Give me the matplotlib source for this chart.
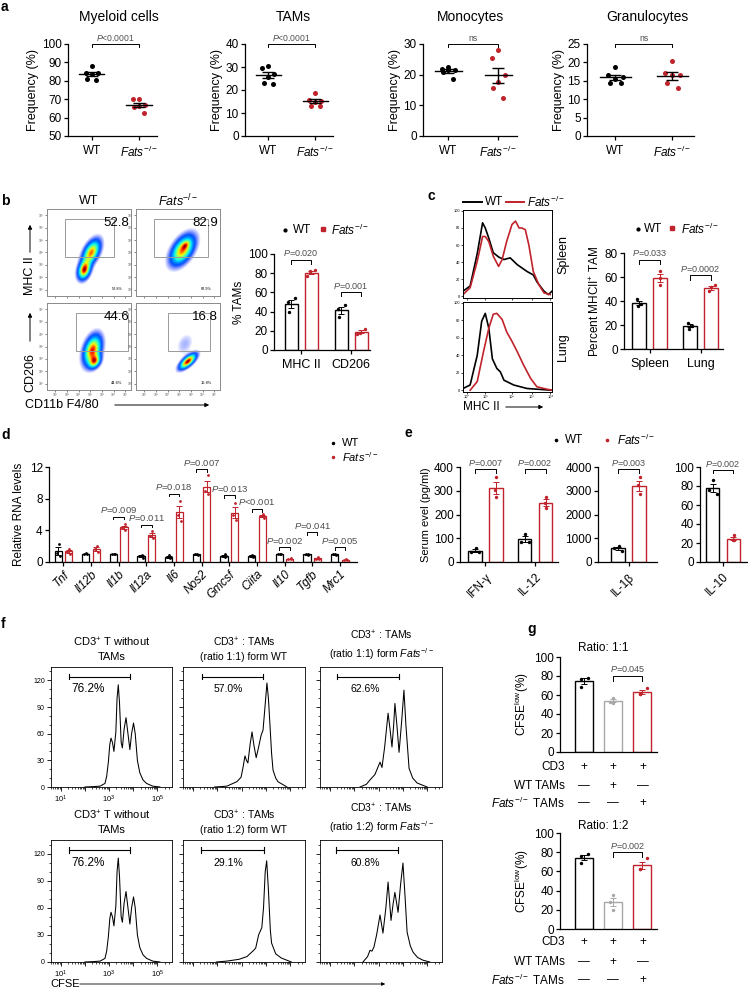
import numpy as np
import matplotlib
matplotlib.use('Agg')
import matplotlib.pyplot as plt
from matplotlib.patches import Rectangle

# ---------------- data ----------------
# panel a
a_titles = ['Myeloid cells', 'TAMs', 'Monocytes', 'Granulocytes']
a_wt = [[88, 84.5, 84, 83.5, 81, 80.5],
        [30.5, 29.5, 27, 25.5, 23, 22.8],
        [22.5, 22, 21.5, 21.5, 21, 18.5],
        [18.8, 16.5, 16, 15.5, 14.5, 14.5]]
a_ko = [[70.2, 70, 67, 66.5, 66, 62.5],
        [18.5, 15.5, 15.2, 15, 13.2, 13.2],
        [28, 25.5, 20, 17.5, 15.5, 12.5],
        [20.5, 17, 16.5, 16.5, 14.5, 13]]
a_ylim = [(50, 100), (0, 40), (0, 30), (0, 25)]
a_yticks = [[50, 60, 70, 80, 90, 100], [0, 10, 20, 30, 40], [0, 10, 20, 30], [0, 5, 10, 15, 20, 25]]
a_p = [r'$\mathit{P}$<0.0001', r'$\mathit{P}$<0.0001', 'ns', 'ns']

# panel b flow (gaussian blob parameters: cx, cy, sx, sy, rho, weight)
flow_wt_mhc = [(3.5, 2.6, 0.32, 0.45, 0.3, 1.0), (4.1, 4.0, 0.45, 0.6, 0.5, 0.9)]
flow_ko_mhc = [(4.3, 4.2, 0.6, 0.7, 0.5, 1.0), (4.55, 4.6, 0.22, 0.22, 0.5, 0.3)]
flow_wt_cd206 = [(4.2, 3.7, 0.45, 0.7, 0.35, 0.8), (4.4, 2.8, 0.3, 0.32, 0.3, 0.6)]
flow_ko_cd206 = [(4.75, 2.8, 0.42, 0.36, 0.7, 1.0), (4.5, 4.2, 0.5, 0.6, 0.3, 0.07)]
flow_big = ['52.8', '82.9', '44.6', '16.8']
flow_small = ['52.8%', '82.9%', '44.6%', '16.8%']
flow_gates = [(1.85, 3.6, 6.0, 6.7), (1.85, 3.6, 6.5, 6.7), (2.8, 3.6, 7.2, 6.7), (3.05, 3.6, 6.65, 6.7)]

# panel b bars
b_groups = ['MHC II', 'CD206']
b_wt = [[54, 50, 40], [47, 43, 34]]
b_ko = [[83, 82, 77], [22, 18, 17]]
b_p = [r'$\mathit{P}$=0.020', r'$\mathit{P}$=0.001']
b_pbar = [94, 60]

# panel c histograms (x as fraction of axis, y count)
c_sp_wt_x = [0.0, 0.08, 0.16, 0.22, 0.25, 0.29, 0.34, 0.40, 0.46, 0.53, 0.61, 0.72, 0.79, 0.83, 0.91, 0.96, 1.0]
c_sp_wt_y = [6, 12, 50, 86, 80, 68, 51, 46, 43, 45, 37, 29, 25, 17, 6, 2, 6]
c_sp_ko_x = [0.0, 0.08, 0.16, 0.22, 0.25, 0.29, 0.34, 0.40, 0.44, 0.49, 0.55, 0.59, 0.63, 0.66, 0.70, 0.74, 0.79, 0.85, 0.91, 0.98]
c_sp_ko_y = [2, 10, 41, 70, 70, 64, 47, 35, 43, 64, 84, 88, 80, 80, 78, 60, 29, 14, 4, 2]
c_lu_wt_x = [0.0, 0.08, 0.16, 0.21, 0.25, 0.29, 0.33, 0.38, 0.42, 0.46, 0.57, 0.72, 1.0]
c_lu_wt_y = [2, 6, 40, 79, 88, 71, 36, 25, 21, 11.5, 6, 2, 0]
c_lu_ko_x = [0.08, 0.16, 0.23, 0.29, 0.34, 0.38, 0.44, 0.49, 0.55, 0.61, 0.68, 0.76, 0.83, 0.91, 1.0]
c_lu_ko_y = [0, 10, 44, 71, 87, 88, 81, 67, 56, 44, 29, 13.5, 4, 2, 0]

# panel c bars
c_groups = ['Spleen', 'Lung']
c_wt = [[42, 37.5, 36], [22, 19.5, 17]]
c_ko = [[65, 59, 53], [53.5, 52, 48]]
c_p = [r'$\mathit{P}$=0.033', r'$\mathit{P}$=0.0002']
c_pbar = [74.5, 61.5]

# panel d
d_genes = ['Tnf', 'Il12b', 'Il1b', 'Il12a', 'Il6', 'Nos2', 'Gmcsf', 'Ciita', 'Il10', 'Tgfb', 'Mrc1']
d_wt = [[2.3, 1.2, 0.7], [1.1, 1.0, 0.95], [1.05, 1.0, 0.95], [0.9, 0.8, 0.5], [0.9, 0.6, 0.5],
        [1.0, 0.95, 0.9], [1.0, 0.8, 0.6], [0.9, 0.8, 0.6], [1.05, 1.0, 0.95], [1.0, 0.95, 0.9], [1.0, 0.95, 0.9]]
d_ko = [[1.7, 1.3, 1.0], [2.0, 1.6, 1.3], [4.8, 4.3, 4.0], [3.9, 3.3, 3.0], [7.7, 5.9, 5.2],
        [11.0, 9.0, 8.6], [7.5, 5.9, 5.3], [6.1, 5.8, 5.6], [0.45, 0.4, 0.35], [0.6, 0.4, 0.35], [0.35, 0.25, 0.2]]
d_p = [None, None, 'P=0.009', 'P=0.011', 'P=0.018', 'P=0.007', 'P=0.013', 'P<0.001', 'P=0.002', 'P=0.041', 'P=0.005']
d_pbar = [None, None, 5.74, 4.72, 8.64, 11.74, 8.43, 6.72, 1.9, 3.74, 1.9]

# panel e
e1_cats = ['IFN-γ', 'IL-12']
e1_wt = [[60, 42, 42], [119, 85, 85]]
e1_ko = [[358, 305, 273], [275, 247, 226]]
e1_p = [r'$\mathit{P}$=0.007', r'$\mathit{P}$=0.002']
e2_cats = ['IL-1β']
e2_wt = [[670, 600, 470]]
e2_ko = [[3580, 3230, 2850]]
e2_p = [r'$\mathit{P}$=0.003']
e3_cats = ['IL-10']
e3_wt = [[86, 76, 72]]
e3_ko = [[28, 23, 23]]
e3_p = [r'$\mathit{P}$=0.002']

# panel f histograms (x in log10 CFSE, y count)
f_none_x = [2.0, 2.4, 2.63, 2.83, 2.9, 2.97, 3.03, 3.08, 3.14, 3.2, 3.28, 3.33, 3.38, 3.43, 3.5, 3.55,
            3.62, 3.7, 3.78, 3.86, 3.93, 4.01, 4.08, 4.17, 4.27, 4.4, 4.55, 4.8, 5.1]
f_none_y = [0, 0.5, 1, 4, 12, 28, 48, 55, 50, 40, 62, 100, 115, 95, 50, 44,
            65, 78, 60, 42, 60, 72, 60, 30, 16, 8, 4, 1, 0]
f_wt11_x = [1.9, 2.2, 2.4, 2.81, 2.98, 3.06, 3.14, 3.2, 3.26, 3.35, 3.43, 3.5, 3.6, 3.7, 3.8, 3.88,
            3.96, 4.04, 4.1, 4.17, 4.23, 4.29, 4.4, 4.49, 4.86]
f_wt11_y = [0, 0.5, 1, 6, 11, 22, 35, 30, 27, 48, 62, 48, 33, 45, 58, 64,
            90, 117, 100, 67, 38, 19, 10, 6, 0]
f_ko11_x = [2.24, 2.5, 2.65, 2.85, 3.0, 3.06, 3.14, 3.25, 3.39, 3.47, 3.55, 3.62, 3.67, 3.75, 3.84,
            3.95, 4.04, 4.12, 4.25, 4.4, 4.58, 4.99]
f_ko11_y = [0, 3, 8, 14, 24, 28, 22, 45, 83, 65, 45, 70, 94, 70, 39, 75, 109, 70, 21, 10, 4.5, 0]
f_wt12_x = [1.97, 2.4, 2.9, 3.22, 3.3, 3.38, 3.5, 3.58, 3.65, 3.7, 3.78, 3.83, 3.9, 3.97, 4.03,
            4.1, 4.18, 4.23, 4.4, 4.63, 5.04]
f_wt12_y = [0, 1, 3, 6, 8, 10, 13, 15.5, 24, 30, 35, 38, 60, 100, 112, 80, 35, 21, 9, 4.4, 0]
f_ko12_x = [2.36, 2.55, 2.65, 2.73, 2.81, 2.92, 3.06, 3.18, 3.3, 3.39, 3.51, 3.6, 3.67, 3.8, 3.9,
            4.0, 4.08, 4.17, 4.3, 4.41, 4.6, 4.82, 5.1]
f_ko12_y = [0, 6, 13, 12, 16.5, 30, 52, 32, 60, 88.5, 46, 65, 77, 55, 85, 109.5, 75, 33, 18, 11, 5, 2, 0]
f_pct = ['76.2%', '57.0%', '62.6%', '76.2%', '29.1%', '60.8%']
f_gate = [(1.33, 3.86), (1.37, 3.88), (1.3, 3.84), (1.33, 3.86), (1.34, 3.92), (1.26, 3.8)]

# panel g
g1_vals = [[78, 77, 68], [57, 53, 52], [67, 61, 61]]
g2_vals = [[78, 76.5, 68.5], [35.5, 28.6, 20], [74, 62.7, 62.7]]
g_p = [r'$\mathit{P}$=0.045', r'$\mathit{P}$=0.002']
g_signs = [['+', '+', '+'], ['—', '+', '—'], ['—', '—', '+']]

# ---------------- style ----------------
W, H = 748, 999
plt.rcParams.update({
    'font.family': ['Liberation Sans', 'DejaVu Sans'],
    'mathtext.fontset': 'custom',
    'mathtext.rm': 'Liberation Sans',
    'mathtext.it': 'Liberation Sans:italic',
    'mathtext.bf': 'Liberation Sans:bold',
    'axes.linewidth': 0.9,
    'xtick.major.width': 0.9, 'ytick.major.width': 0.9,
    'xtick.major.size': 3, 'ytick.major.size': 3,
    'xtick.direction': 'out', 'ytick.direction': 'out',
    'axes.facecolor': 'none',
})
RED = '#C0232B'
GRAY = '#A8A8A8'
PCOL = '#4d4d4d'
FATS = r'$\mathit{Fats}^{-/-}$'
SUP = ['', '¹', '²', '³', '⁴', '⁵', '⁶', '⁷']

fig = plt.figure(figsize=(W / 100, H / 100), dpi=100)
ov = fig.add_axes([0, 0, 1, 1])
ov.set_xlim(0, W)
ov.set_ylim(H, 0)
ov.axis('off')
ov.set_zorder(10)


def add_ax(l, t, r, b):
    return fig.add_axes([l / W, 1 - b / H, (r - l) / W, (b - t) / H])


def clean(ax):
    ax.spines['top'].set_visible(False)
    ax.spines['right'].set_visible(False)


def semstats(v):
    v = np.asarray(v, float)
    return v.mean(), v.std(ddof=1) / np.sqrt(len(v))


def bar(ax, x, vals, color, width, offs=(0.25, -0.25, 0.0), dot_s=6, lw=1.0):
    m, se = semstats(vals)
    ax.bar(x, m, width, facecolor='white', edgecolor=color, linewidth=lw, zorder=2)
    ax.errorbar(x, m, yerr=se, color=color, capsize=2, lw=0.7, capthick=0.7, zorder=3)
    ax.scatter(x + np.array(offs[:len(vals)]) * width, vals, s=dot_s, color=color, zorder=4, linewidths=0)


def bracket(ax, x1, x2, y, h, text, fs=6.2, gap=0.3):
    ax.plot([x1, x1, x2, x2], [y - h, y, y, y - h], color='k', lw=0.7, clip_on=False)
    ax.text((x1 + x2) / 2, y + h * gap, text, ha='center', va='bottom', fontsize=fs, color=PCOL, clip_on=False)


def plabel(x, y, s):
    ov.text(x, y, s, fontsize=10, fontweight='bold', ha='left', va='top')


# ---------------- panel a ----------------
plabel(1, 0, 'a')
a_boxes = [(68, 44, 157, 136), (245, 44, 333, 136), (423, 44, 517, 136), (587, 44, 694, 136)]
a_title_x = [119, 293, 471, 647]
a_jit = np.array([0.0, -0.13, 0.13, 0.0, -0.1, 0.1])
for i in range(4):
    ax = add_ax(*a_boxes[i])
    clean(ax)
    for j, (vals, col) in enumerate([(a_wt[i], 'black'), (a_ko[i], RED)]):
        m, se = semstats(vals)
        ax.scatter(j + a_jit, vals, s=13, color=col, zorder=3, linewidths=0)
        ax.plot([j - 0.27, j + 0.27], [m, m], color='k', lw=1.0, zorder=4)
        ax.errorbar(j, m, yerr=se, color='k', capsize=4, lw=1.0, capthick=1.0, zorder=4)
    lo, hi = a_ylim[i]
    ax.set_ylim(lo, hi)
    ax.set_yticks(a_yticks[i])
    ax.set_xlim(-0.5, 1.38)
    ax.set_xticks([0, 1])
    ax.set_xticklabels(['WT', FATS], fontsize=8.5)
    ax.tick_params(axis='y', labelsize=8.5, pad=1.5)
    ax.set_ylabel('Frequency (%)', fontsize=9, labelpad=2)
    rng = hi - lo
    bracket(ax, 0, 1, hi, 0.035 * rng, a_p[i], fs=6.2, gap=0.4)
    ov.text(a_title_x[i], 17, a_titles[i], fontsize=10, ha='center', va='center')

# ---------------- panel b flow ----------------
plabel(1, 194, 'b')
fx0, fx1, fy0, fy1 = 0.3, 7.5, 0.5, 7.5
gx = np.linspace(fx0, fx1, 240)
gy = np.linspace(fy0, fy1, 240)
GX, GY = np.meshgrid(gx, gy)
flow_sets = [flow_wt_mhc, flow_ko_mhc, flow_wt_cd206, flow_ko_cd206]
flow_boxes = [(47, 209, 131, 296), (136, 209, 220, 296), (47, 303, 131, 390), (136, 303, 220, 390)]
jet = plt.get_cmap('jet')
for k in range(4):
    ax = add_ax(*flow_boxes[k])
    D = np.zeros_like(GX)
    for (cx, cy, sx, sy, rho, w) in flow_sets[k]:
        dx = (GX - cx) / sx
        dy = (GY - cy) / sy
        D += w * np.exp(-(dx ** 2 - 2 * rho * dx * dy + dy ** 2) / (2 * (1 - rho ** 2)))
    D /= D.max()
    rgba = jet(0.15 + 0.85 * np.clip(D, 0, 1) ** 1.6)
    rgba[..., 3] = np.clip((D - 0.03) / 0.15, 0, 1) ** 0.8
    ax.imshow(rgba, extent=(fx0, fx1, fy0, fy1), origin='lower', aspect='auto', interpolation='bilinear')
    x0, y0, x1, y1 = flow_gates[k]
    ax.add_patch(Rectangle((x0, y0), x1 - x0, y1 - y0, fill=False, edgecolor='#9a9a9a', lw=0.7))
    ax.set_xlim(fx0, fx1)
    ax.set_ylim(fy0, fy1)
    for s in ax.spines.values():
        s.set_color('#8a8a8a')
        s.set_linewidth(0.7)
    ax.set_xticks(range(1, 8))
    ax.set_yticks(range(1, 8))
    ax.set_yticklabels(['10' + SUP[d] for d in range(1, 8)], fontsize=2.4)
    if k >= 2:
        ax.set_xticklabels(['10' + SUP[d] for d in range(1, 8)], fontsize=2.4)
    else:
        ax.set_xticklabels([])
    ax.tick_params(length=1.5, width=0.5, pad=0.8, colors='#555555')
    ax.text(7.35, 6.35, flow_big[k], fontsize=9.5, ha='right', va='center')
    ax.text(6.3, 1.05, flow_small[k], fontsize=2.8, ha='center', va='center')
ov.text(89, 201, 'WT', fontsize=9, ha='center', va='center')
ov.text(178, 201, FATS, fontsize=9, ha='center', va='center')
ov.text(30, 276, 'MHC II', fontsize=9, rotation=90, ha='center', va='center')
ov.annotate('', xy=(30, 222), xytext=(30, 255), arrowprops=dict(arrowstyle='-|>', lw=0.7, color='k', mutation_scale=6))
ov.text(30, 372, 'CD206', fontsize=9, rotation=90, ha='center', va='center')
ov.annotate('', xy=(30, 310), xytext=(30, 344), arrowprops=dict(arrowstyle='-|>', lw=0.7, color='k', mutation_scale=6))
ov.text(25, 405, 'CD11b F4/80', fontsize=9, ha='left', va='center')
ov.annotate('', xy=(212, 405), xytext=(112, 405), arrowprops=dict(arrowstyle='-|>', lw=0.7, color='k', mutation_scale=6))

# ---------------- panel b bars ----------------
ax = add_ax(274, 254, 370, 350)
clean(ax)
for i in range(2):
    bar(ax, i - 0.2, b_wt[i], 'black', 0.26, offs=(0.3, -0.25, -0.15))
    bar(ax, i + 0.2, b_ko[i], RED, 0.26, offs=(0.3, -0.1, -0.3))
    bracket(ax, i - 0.2, i + 0.2, b_pbar[i], 4, b_p[i], fs=6.5, gap=0.4)
ax.set_xlim(-0.54, 1.38)
ax.set_ylim(0, 100)
ax.set_yticks([0, 20, 40, 60, 80, 100])
ax.set_xticks([0, 1])
ax.set_xticklabels(b_groups, fontsize=9)
ax.tick_params(axis='y', labelsize=8.5, pad=1.5)
ax.set_ylabel('% TAMs', fontsize=8.5, labelpad=2)
ov.plot([285], [230], 'o', color='k', ms=2)
ov.text(293, 230, 'WT', fontsize=8.5, va='center')
ov.plot([323], [229], 's', color=RED, ms=2.2)
ov.text(331, 230, FATS, fontsize=8.5, va='center')

# ---------------- panel c hist ----------------
plabel(428, 189, 'c')
c_hist = [((c_sp_wt_x, c_sp_wt_y), (c_sp_ko_x, c_sp_ko_y), 'Spleen', (463, 210, 552, 298)),
          ((c_lu_wt_x, c_lu_wt_y), (c_lu_ko_x, c_lu_ko_y), 'Lung', (463, 302, 552, 392))]
for k, (wt, ko, name, box) in enumerate(c_hist):
    ax = add_ax(*box)
    ax.plot(wt[0], wt[1], color='black', lw=1.2)
    ax.plot(ko[0], ko[1], color=RED, lw=1.2)
    ax.set_xlim(0, 1)
    ax.set_ylim(-2, 101)
    ax.set_yticks([0, 20, 40, 60, 80, 100])
    ax.set_yticklabels(['0', '20', '40', '60', '80', '100'], fontsize=2.8)
    ax.set_xticks([0.045, 0.25, 0.55, 0.775, 0.98])
    if k == 1:
        ax.set_xticklabels(['10' + ['⁰', '¹', '²', '³', '⁴'][d] for d in range(5)], fontsize=2.8)
    else:
        ax.set_xticklabels([])
    ax.tick_params(length=1.5, width=0.5, pad=0.8)
    for s in ax.spines.values():
        s.set_linewidth(0.7)
    ov.text(563, (box[1] + box[3]) / 2, name, fontsize=9, rotation=90, ha='center', va='center')
ov.plot([463, 482], [202, 202], color='k', lw=1.4)
ov.text(485, 202, 'WT', fontsize=8.5, va='center')
ov.plot([506, 524], [202, 202], color=RED, lw=1.4)
ov.text(527, 202, FATS, fontsize=8.5, va='center')
ov.text(463, 407, 'MHC II', fontsize=8.5, va='center')
ov.annotate('', xy=(546, 407), xytext=(503, 407), arrowprops=dict(arrowstyle='-|>', lw=0.7, color='k', mutation_scale=6))

# ---------------- panel c bars ----------------
ax = add_ax(624, 253, 723, 349)
clean(ax)
for i in range(2):
    bar(ax, i - 0.2, c_wt[i], 'black', 0.27, offs=(-0.2, 0.1, -0.1))
    bar(ax, i + 0.2, c_ko[i], RED, 0.27, offs=(0.0, 0.0, 0.0) if i == 0 else (0.3, 0.0, -0.1))
    bracket(ax, i - 0.2, i + 0.2, c_pbar[i], 4, c_p[i], fs=6.5, gap=0.35)
ax.set_xlim(-0.5, 1.44)
ax.set_ylim(0, 80)
ax.set_yticks([0, 20, 40, 60, 80])
ax.set_xticks([0, 1])
ax.set_xticklabels(c_groups, fontsize=9)
ax.tick_params(axis='y', labelsize=8.5, pad=1.5)
ax.set_ylabel(r'Percent MHCII$^{+}$ TAM', fontsize=8.5, labelpad=2)
ov.plot([638], [229], 'o', color='k', ms=2)
ov.text(644, 229, 'WT', fontsize=8.5, va='center')
ov.plot([672], [228], 's', color=RED, ms=2.2)
ov.text(681, 229, FATS, fontsize=8.5, va='center')

# ---------------- panel d ----------------
plabel(1, 428, 'd')
ax = add_ax(49, 467, 357, 562)
clean(ax)
for i in range(len(d_genes)):
    bar(ax, i - 0.19, d_wt[i], 'black', 0.26, offs=(0.1, -0.2, 0.2), dot_s=4, lw=0.9)
    bar(ax, i + 0.19, d_ko[i], RED, 0.26, offs=(0.1, -0.2, 0.2), dot_s=4, lw=0.9)
    if d_p[i]:
        txt = r'$\mathit{P}$' + d_p[i][1:]
        bracket(ax, i - 0.19, i + 0.19, d_pbar[i], 0.35, txt, fs=6.8, gap=0.5)
ax.set_xlim(-0.52, 10.62)
ax.set_ylim(0, 12)
ax.set_yticks([0, 4, 8, 12])
ax.set_xticks(range(len(d_genes)))
ax.set_xticklabels(d_genes, rotation=45, ha='right', rotation_mode='anchor', fontsize=8.5, style='italic')
ax.tick_params(axis='y', labelsize=8.5, pad=1.5)
ax.tick_params(axis='x', pad=1.5)
ax.set_ylabel('Relative RNA levels', fontsize=8.5, labelpad=3)
ov.plot([333], [443], 'o', color='k', ms=1.5)
ov.text(342, 443, 'WT', fontsize=8, va='center')
ov.plot([333], [457], 'o', color=RED, ms=1.5)
ov.text(342, 457, FATS, fontsize=8, va='center')

# ---------------- panel e ----------------
plabel(405, 426, 'e')
e_specs = [((460, 467, 558, 562), e1_cats, e1_wt, e1_ko, e1_p, (0, 400), [0, 100, 200, 300, 400], (-0.51, 1.46), 390),
           ((598, 467, 657, 562), e2_cats, e2_wt, e2_ko, e2_p, (0, 4000), [0, 1000, 2000, 3000, 4000], (-0.61, 0.57), 3900),
           ((700, 467, 747, 562), e3_cats, e3_wt, e3_ko, e3_p, (0, 100), [0, 20, 40, 60, 80, 100], (-0.47, 0.49), 97)]
for k, (box, cats, wt, ko, pp, yl, yt, xl, pb) in enumerate(e_specs):
    ax = add_ax(*box)
    clean(ax)
    for i in range(len(cats)):
        bar(ax, i - 0.21, wt[i], 'black', 0.27, offs=(0.05, -0.3, 0.3))
        bar(ax, i + 0.21, ko[i], RED, 0.27, offs=(0.05, -0.05, 0.05))
        bracket(ax, i - 0.21, i + 0.21, pb, 0.035 * yl[1], pp[i], fs=6.5, gap=0.35)
    ax.set_xlim(*xl)
    ax.set_ylim(*yl)
    ax.set_yticks(yt)
    ax.set_xticks(range(len(cats)))
    ax.set_xticklabels(cats, rotation=45, ha='right', rotation_mode='anchor', fontsize=8.5)
    ax.tick_params(axis='y', labelsize=8.5, pad=1.5)
    if k == 0:
        ax.set_ylabel('Serum evel (pg/ml)', fontsize=8, labelpad=2)
ov.plot([556], [440], 'o', color='k', ms=1.6)
ov.text(565, 440, 'WT', fontsize=8.5, va='center')
ov.plot([607], [440], 'o', color=RED, ms=1.6)
ov.text(617, 440, FATS, fontsize=8.5, va='center')

# ---------------- panel f ----------------
plabel(1, 617, 'f')
f_data = [(f_none_x, f_none_y), (f_wt11_x, f_wt11_y), (f_ko11_x, f_ko11_y),
          (f_none_x, f_none_y), (f_wt12_x, f_wt12_y), (f_ko12_x, f_ko12_y)]
f_cols = [(51, 172), (183, 305), (320, 442)]
f_rows = [(667, 787), (840, 962)]
f_titles = [r'CD3$^{+}$ T without' + '\nTAMs',
            r'CD3$^{+}$ : TAMs' + '\n(ratio 1:%s) form WT',
            r'CD3$^{+}$ : TAMs' + '\n(ratio 1:%s) form ' + FATS]
minor_pos = [np.log10(m * 10.0 ** d) for d in range(0, 6) for m in range(2, 10)]
minor_pos = [p for p in minor_pos if 0.6 < p < 5.6]
for r in range(2):
    for c in range(3):
        k = r * 3 + c
        ax = add_ax(f_cols[c][0], f_rows[r][0], f_cols[c][1], f_rows[r][1])
        xs, ys = f_data[k]
        ax.plot(xs, ys, color='k', lw=0.75)
        ax.set_xlim(0.6, 5.6)
        ax.set_ylim(0, 135)
        ax.set_yticks([0, 30, 60, 90, 120])
        ax.set_yticks(np.arange(0, 135, 10), minor=True)
        ax.set_xticks([1, 2, 3, 4, 5])
        ax.set_xticks(minor_pos, minor=True)
        if c == 0:
            ax.set_yticklabels(['0', '30', '60', '90', '120'], fontsize=5)
            ax.set_xticklabels([r'$10^{1}$', '', r'$10^{3}$', '', r'$10^{5}$'], fontsize=5.5)
        else:
            ax.set_yticklabels([])
            ax.set_xticklabels([])
        ax.tick_params(which='major', length=3, width=0.6, pad=1.5)
        ax.tick_params(which='minor', length=1.6, width=0.5)
        for s in ax.spines.values():
            s.set_linewidth(0.6)
        ga, gb = f_gate[k]
        ax.plot([ga, gb], [124, 124], color='k', lw=0.8)
        ax.plot([ga, ga], [121, 127], color='k', lw=0.8)
        ax.plot([gb, gb], [121, 127], color='k', lw=0.8)
        ax.text(2.45 if c else 2.15, 110, f_pct[k], fontsize=8.5 if c == 0 else 7.5, ha='center', va='center')
        ttl = f_titles[c] if c == 0 else f_titles[c] % ('1' if r == 0 else '2')
        ov.text((f_cols[c][0] + f_cols[c][1]) / 2, f_rows[r][0] - 5, ttl, fontsize=7.5 if c else 8,
                ha='center', va='bottom', linespacing=1.35)
ov.text(50, 984, 'CFSE', fontsize=8, va='center')
ov.annotate('', xy=(388, 984), xytext=(77, 984), arrowprops=dict(arrowstyle='-|>', lw=0.6, color='k', mutation_scale=5))

# ---------------- panel g ----------------
plabel(527, 622, 'g')
g_specs = [((560, 657, 657, 752), g1_vals, 'Ratio: 1:1', 648, g_p[0], (767, 786, 803)),
           ((560, 833, 657, 929), g2_vals, 'Ratio: 1:2', 826, g_p[1], (942, 962, 980))]
g_row_labels = ['CD3', 'WT TAMs', FATS + ' TAMs']
g_colors = ['black', GRAY, RED]
for box, vals, ttl, ty, pv, rows_y in g_specs:
    ax = add_ax(*box)
    clean(ax)
    for i in range(3):
        bar(ax, i, vals[i], g_colors[i], 0.62, offs=(0.25, -0.15, -0.15) if i != 1 else (0.0, -0.2, 0.0))
    bracket(ax, 1, 2, 80, 5, pv, fs=6.5, gap=0.35)
    ax.set_xlim(-0.82, 2.5)
    ax.set_ylim(0, 100)
    ax.set_yticks([0, 20, 40, 60, 80, 100])
    ax.set_xticks([])
    ax.tick_params(axis='y', labelsize=8.5, pad=1.5)
    ax.set_ylabel(r'CFSE$^{\mathrm{low}}$(%)', fontsize=8.5, labelpad=2)
    ov.text(603, ty, ttl, fontsize=8.5, ha='center', va='center')
    xpx = [box[0] + (i + 0.82) / 3.32 * (box[2] - box[0]) for i in range(3)]
    for rr in range(3):
        ov.text(565, rows_y[rr], g_row_labels[rr], fontsize=8.5, ha='right', va='center')
        for i in range(3):
            ov.text(xpx[i], rows_y[rr], g_signs[rr][i], fontsize=8.5, ha='center', va='center')

fig.savefig('out.png', dpi=100)
